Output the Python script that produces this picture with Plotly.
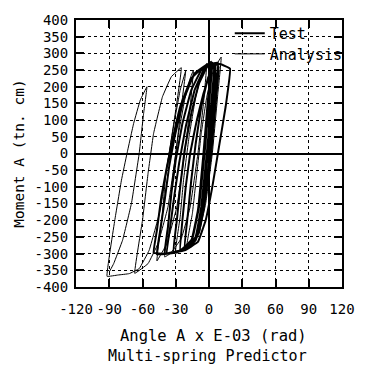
import plotly.graph_objects as go

# ---- data ----
test_x = [0, 3, 6, 9,
          6, 2, -4, -9, -15, -22,
          -19, -16, -12, -7, -1, 5,
          2, -2, -7, -12, -20, -32,
          -29, -26, -22, -16, -9, -2, 3,
          0, -4, -9, -15, -25, -40,
          -37, -34, -30, -24, -16, -7, 2,
          -1, -5, -10, -16, -28, -47,
          -44, -40, -36, -31, -23, -13, -2, 8,
          5, 1, -5, -12, -24, -40, -50,
          -47, -43, -38, -33, -26, -16, -4, 10, 19,
          15, 9, 3, -3, -10, -22, -38,
          -35, -31, -27, -21, -13, -4, 6,
          3, -1, -6, -13, -26,
          -24, -21, -17, -11, -5, 0]
test_y = [0, 130, 220, 262,
          150, 0, -150, -235, -272, -284,
          -180, -80, 30, 140, 225, 268,
          150, 0, -160, -250, -284, -295,
          -200, -100, 10, 120, 210, 258, 272,
          150, 0, -160, -255, -290, -300,
          -220, -120, -20, 90, 190, 250, 275,
          160, 0, -170, -262, -296, -302,
          -230, -140, -40, 50, 160, 240, 266, 272,
          150, 0, -170, -260, -292, -300, -298,
          -230, -130, -40, 40, 140, 225, 262, 268, 254,
          140, 20, -100, -200, -265, -290, -298,
          -220, -120, -30, 80, 190, 255, 270,
          140, 0, -160, -260, -292,
          -200, -100, 0, 100, 180, 230]

analysis_x = [0, 3, 6, 9,
              6, 2, -3, -8, -14, -20,
              -15, -11, -7, -2, 4, 11,
              8, 3, -3, -9, -16, -30,
              -26, -23, -18, -12, -6, -2,
              -5, -10, -17, -25, -35, -40,
              -36, -33, -28, -22, -17, -14,
              -17, -22, -29, -38, -47,
              -42, -39, -36, -31, -26, -21,
              -25, -30, -37, -46, -55, -67,
              -60, -55, -50, -42, -34, -25,
              -30, -36, -44, -54, -63, -72, -82, -92,
              -85, -79, -74, -68, -62, -56,
              -59, -63, -70, -78, -86, -90]
analysis_y = [0, 110, 200, 250,
              150, 0, -130, -220, -262, -276,
              -180, -60, 60, 170, 250, 289,
              180, 0, -150, -240, -280, -292,
              -190, -80, 50, 170, 245, 270,
              150, 0, -160, -255, -300, -310,
              -190, -80, 50, 160, 225, 250,
              140, 0, -160, -270, -322,
              -180, -60, 0, 100, 190, 248,
              140, 0, -160, -270, -330, -359,
              -200, -60, 60, 170, 230, 257,
              130, 0, -170, -290, -345, -360, -364, -368,
              -200, -80, 0, 90, 160, 200,
              120, 0, -150, -260, -330, -355]

x_ticks = [-120, -90, -60, -30, 0, 30, 60, 90, 120]
x_tick_text = ["-120", "-90", "-60", "-30", "0", "30", "60", "90", "120"]
y_ticks = [400, 350, 300, 250, 200, 150, 100, 50, 0, -50, -100, -150,
           -200, -250, -300, -350, -400]
y_tick_text = [str(v) for v in y_ticks]

FONT = "DejaVu Sans Mono"

fig = go.Figure()
fig.add_trace(go.Scatter(x=test_x, y=test_y, mode="lines", name="Test", legend="legend",
                         line=dict(color="black", width=2, shape="spline", smoothing=0.2)))
fig.add_trace(go.Scatter(x=analysis_x, y=analysis_y, mode="lines", name="Analysis",
                         legend="legend2",
                         line=dict(color="black", width=1, shape="spline", smoothing=0.2)))

axis_common = dict(showline=True, linecolor="black", linewidth=2, mirror="ticks",
                   ticks="inside", ticklen=8, tickwidth=1.5, tickcolor="black",
                   showgrid=True, gridcolor="black", gridwidth=1, griddash="dot",
                   zeroline=True, zerolinecolor="black", zerolinewidth=1.5,
                   tickfont=dict(family=FONT, size=14, color="black"))

fig.update_xaxes(range=[-120, 120], tickvals=x_ticks, ticktext=x_tick_text,
                 ticklabelstandoff=8, **axis_common)
fig.update_yaxes(range=[-400, 400], tickvals=y_ticks, ticktext=y_tick_text,
                 ticklabelstandoff=3, **axis_common)

leg_common = dict(xanchor="left", yanchor="top", bgcolor="rgba(0,0,0,0)",
                  font=dict(family=FONT, size=15, color="black"), itemwidth=30)

fig.update_layout(
    width=367, height=372,
    margin=dict(l=76, r=14, t=13, b=85),
    paper_bgcolor="white", plot_bgcolor="white",
    font=dict(family=FONT, color="black"),
    showlegend=True,
    legend=dict(x=0.578, y=1.011, **leg_common),
    legend2=dict(x=0.578, y=0.934, **leg_common),
    annotations=[
        dict(text="Angle A x E-03 (rad)", xref="paper", yref="paper", x=0.518, y=-0.183,
             xanchor="center", yanchor="middle", showarrow=False,
             font=dict(family=FONT, size=15.5, color="black")),
        dict(text="Multi-spring Predictor", xref="paper", yref="paper", x=0.493, y=-0.259,
             xanchor="center", yanchor="middle", showarrow=False,
             font=dict(family=FONT, size=15, color="black")),
        dict(text="Moment A (tn. cm)", xref="paper", yref="paper", x=-0.217, y=0.5,
             xanchor="center", yanchor="middle", textangle=-90, showarrow=False,
             font=dict(family=FONT, size=14.5, color="black")),
    ],
)

fig.write_html("out.html")
